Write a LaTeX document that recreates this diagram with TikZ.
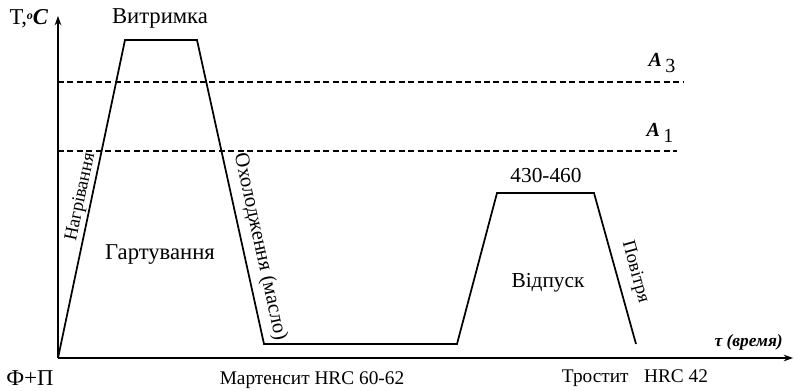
\documentclass[tikz,border=0pt]{standalone}
\usepackage{fontspec}
\setmainfont{Liberation Serif}
\usetikzlibrary{arrows.meta}

\tikzset{
  curve/.style={line width=1.3pt, line join=miter},
  crit/.style={line width=1.4pt, dash pattern=on 4.5pt off 2.6pt},
  axis/.style={line width=0.9pt, -{Stealth[length=7pt,width=5pt]}},
  lbl/.style={font=\fontsize{17}{19}\selectfont, inner sep=0pt},
  small/.style={font=\fontsize{14.5}{16}\selectfont, inner sep=0pt}
}

\begin{document}
\begin{tikzpicture}[x=0.75pt,y=-0.75pt]
\useasboundingbox (0,0) rectangle (794,390);
% axes, the numbers are pixel positions of the original sketch
\draw[axis] (58,358) -- (58,16);
\draw[axis] (58,358) -- (793,358);
% critical points
\draw[crit] (58,82) -- (683,82);
\draw[crit] (58,151) -- (677,151);
% temperature path: hardening and tempering
\coordinate (o) at (58,358);
\draw[curve] (o) -- (125,40) -- (197,40) -- (264,344) -- (457,344)
   -- (497,193) -- (594,193) -- (636,344);
% labels
\node[lbl] (tc) at (29,19) {Т,\textbf{\textit{\raisebox{0.5ex}{\small o}C}}};
\node[lbl] (hold) at (160,18) {Витримка};
\node[lbl, font=\fontsize{14}{16}\selectfont, rotate=78] (heat) at (81,197) {Нагрівання};
\node[lbl] (hard) at (160,255) {Гартування};
\node[lbl, font=\fontsize{15.5}{17}\selectfont, rotate=-77.6] (cool) at (260,247) {Охолодження (масло)};
\node[lbl, font=\fontsize{16}{18}\selectfont] (temp) at (546,176) {430-460};
\node[lbl, font=\fontsize{16}{18}\selectfont] (tmp) at (548,283) {Відпуск};
\node[lbl, font=\fontsize{14}{16}\selectfont, rotate=-74.5] (air) at (635,272) {Повітря};
\node[lbl, font=\fontsize{15}{17}\selectfont] (a3) at (662,63) {\textbf{\textit{A}}\,\raisebox{-0.6ex}{3}};
\node[lbl, font=\fontsize{15}{17}\selectfont] (a1) at (660,133) {\textbf{\textit{A}}\,\raisebox{-0.6ex}{1}};
\node[lbl, font=\fontsize{13}{15}\selectfont\bfseries\itshape, anchor=east] (tau) at (783,342) {τ (время)};
\node[lbl] (fp) at (30,378) {Ф+П};
\node[small] (mart) at (312,380) {Мартенсит HRC 60-62};
\node[small] (trost) at (635,378) {Тростит\hspace{0.8em}HRC 42};
\end{tikzpicture}
\end{document}
